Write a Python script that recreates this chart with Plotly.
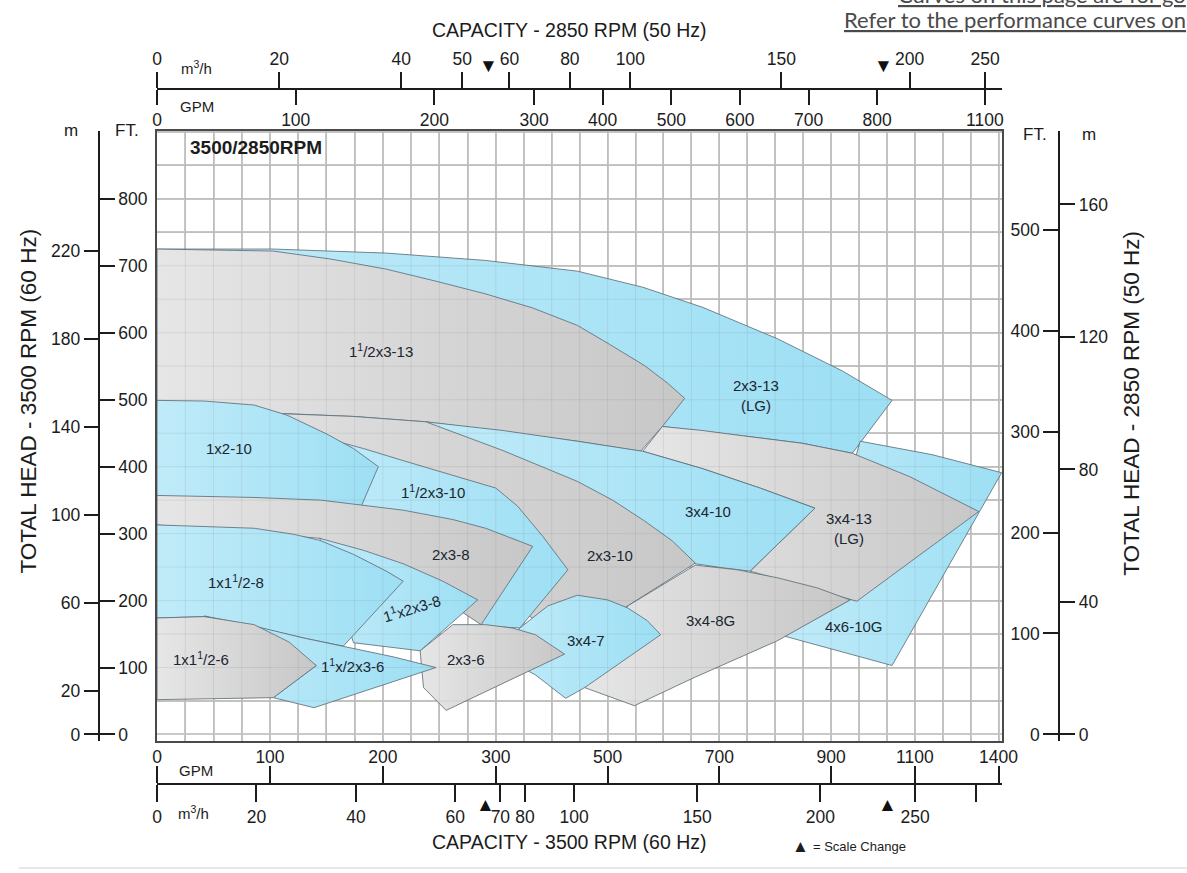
import numpy as np
import plotly.graph_objects as go

# ---------------------------------------------------------------------------
# Hydraulic coverage of each pump size, 3500 RPM basis
# flow in US GPM, total head in feet (outline of each shaded area)
# ---------------------------------------------------------------------------
GPM_2X3_13 = [0, 103, 203, 291, 446, 563, 670, 804, 920, 1018, 938, 848, 743, 598, 446, 218, 0]
FT_2X3_13 = [725, 725, 719, 708, 692, 668, 638, 591, 543, 499, 420, 435, 446, 460, 472, 502, 502]

GPM_15X3_13 = [0, 103, 154, 203, 247, 291, 366, 446, 505, 566, 607, 638, 598, 559, 446, 313, 238, 174, 112, 0]
FT_15X3_13 = [725, 722, 710, 695, 677, 658, 637, 611, 582, 551, 525, 502, 460, 423, 438, 452, 467, 475, 479, 487]

GPM_4X6_10G = [952, 1161, 1411, 1018, 816, 934, 1054, 938]
FT_4X6_10G = [438, 418, 391, 103, 147, 201, 323, 397]

GPM_3X4_13 = [598, 670, 743, 848, 938, 1082, 1329, 946, 848, 755, 871, 773, 670, 563]
FT_3X4_13 = [460, 454, 446, 435, 420, 385, 333, 199, 222, 244, 338, 368, 397, 423]

GPM_3X4_10 = [238, 313, 446, 563, 670, 773, 871, 755, 705, 657, 491, 313, 238]
FT_3X4_10 = [467, 454, 438, 423, 397, 368, 338, 244, 249, 255, 293, 384, 457]

GPM_2X3_10 = [112, 174, 238, 313, 446, 509, 566, 616, 657, 536, 429, 313, 218, 130, 0]
FT_2X3_10 = [479, 475, 467, 424, 378, 350, 319, 289, 256, 192, 137, 204, 323, 397, 412]

GPM_15X3_10 = [150, 183, 218, 262, 300, 339, 384, 429, 343, 289, 183, 165]
FT_15X3_10 = [442, 427, 409, 387, 368, 341, 296, 246, 159, 162, 323, 397]

GPM_1X2_10 = [0, 42, 86, 115, 150, 174, 196, 183, 178, 0]
FT_1X2_10 = [499, 498, 492, 477, 449, 427, 400, 348, 330, 338]

GPM_3X4_8G = [536, 657, 732, 804, 875, 934, 804, 655, 548, 459, 491]
FT_3X4_8G = [192, 253, 246, 234, 219, 201, 140, 85, 43, 70, 130]

GPM_3X4_7 = [343, 393, 446, 500, 536, 571, 595, 459, 425, 371, 313]
FT_3X4_7 = [159, 192, 208, 201, 189, 170, 149, 70, 54, 89, 115]

GPM_2X3_8 = [0, 86, 145, 218, 262, 291, 366, 287, 218, 144, 0]
FT_2X3_8 = [357, 354, 350, 335, 321, 308, 281, 164, 241, 293, 313]

GPM_15X3_8 = [144, 183, 218, 253, 284, 233, 174, 156]
FT_15X3_8 = [293, 275, 255, 229, 201, 125, 137, 234]

GPM_1X15_8 = [0, 86, 121, 144, 174, 203, 218, 165, 130, 86, 42, 0]
FT_1X15_8 = [313, 308, 299, 290, 269, 244, 229, 132, 144, 161, 176, 174]

GPM_2X3_6 = [233, 262, 291, 330, 371, 423, 256, 236]
FT_2X3_6 = [125, 164, 164, 159, 149, 120, 36, 70]

GPM_15X3_6 = [42, 86, 130, 165, 209, 247, 139, 103, 141]
FT_15X3_6 = [177, 162, 144, 132, 116, 100, 40, 55, 103]

GPM_1X15_6 = [0, 42, 86, 117, 141, 103, 0]
FT_1X15_6 = [174, 176, 164, 138, 103, 55, 52]

# Pump size captions and where they sit (GPM, ft)
LABEL_TEXT = ["1<sup>1</sup>/2x3-13", "2x3-13<br>(LG)", "1x2-10", "1<sup>1</sup>/2x3-10",
              "3x4-10", "3x4-13<br>(LG)", "2x3-8", "2x3-10", "1x1<sup>1</sup>/2-8",
              "1<sup>1</sup>x2x3-8", "3x4-8G", "3x4-7", "4x6-10G", "1x1<sup>1</sup>/2-6",
              "1<sup>1</sup>x/2x3-6", "2x3-6"]
LABEL_GPM = [198, 766, 64, 244, 679, 932, 260, 505, 70, 225, 684, 461, 941, 39, 173, 274]
LABEL_FT = [573, 507, 427, 363, 333, 307, 269, 268, 229, 189, 170, 140, 161, 113, 103, 112]
LABEL_ANGLE = [0, 0, 0, 0, 0, 0, 0, 0, 0, -17, 0, 0, 0, 0, 0, 0]

# Axis ticks
BOTTOM_GPM_TICKS = [0, 100, 200, 300, 500, 700, 900, 1100, 1400]
BOTTOM_M3H_TICKS = [0, 20, 40, 60, 70, 80, 100, 150, 200, 250, 300]
BOTTOM_M3H_TEXT = ["0", "20", "40", "60", "70", "80", "100", "150", "200", "250", ""]
TOP_M3H_TICKS = [0, 20, 40, 50, 60, 80, 100, 150, 200, 250]
TOP_GPM_TICKS = [0, 100, 200, 300, 400, 500, 600, 700, 800, 1100]
LEFT_FT_TICKS = [0, 100, 200, 300, 400, 500, 600, 700, 800]
LEFT_M_TICKS = [0, 20, 60, 100, 140, 180, 220]
RIGHT_FT_TICKS = [0, 100, 200, 300, 400, 500]
RIGHT_M_TICKS = [0, 40, 80, 120, 160]

# Unit and speed relations
RPM_60, RPM_50 = 3500, 2850
GPM_PER_M3H = 4.4029
FT_PER_M = 3.2808

# Broken flow scale: break points (GPM @ 3500 RPM) and relative density per segment
SCALE_BREAKS = [0, 300, 1000]
SCALE_DENSITY = [1.0, 0.495, 0.247]
SCALE_CHANGES = [300, 1000]


def flow_pos(gpm):
    g = np.asarray(gpm, dtype=float)
    pos = np.zeros_like(g)
    edges = SCALE_BREAKS + [np.inf]
    for lo, hi, d in zip(edges[:-1], edges[1:], SCALE_DENSITY):
        pos = pos + d * np.clip(g - lo, 0, hi - lo)
    return pos


speed = RPM_60 / RPM_50

# ---------------------------------------------------------------------------
# page geometry: horizontal positions are laid out on a 1187-px grid
# ---------------------------------------------------------------------------
FIG_W, FIG_H = 1204, 873
GRID_W = 1187
FRAME_L, FRAME_T, FRAME_R, FRAME_B = 153, 131, 1001, 744
TOP_AXIS_Y, BOT_AXIS_Y = 89, 787
LEFT_AXIS_X, RIGHT_AXIS_X = 95, 1058
X_RANGE = [float(flow_pos(0)) - 0.4, float(flow_pos(1414))]
Y_RANGE = [-10.4, 902]

FONT = "Liberation Sans, Arial, sans-serif"
INK = "#1c1c1c"


def fx(x):
    return x / GRID_W


def fy(y):
    return 1 - y / FIG_H


BLUE = [[0, "#c0ebf9"], [1, "#9ddff4"]]
GRAY = [[0, "#e6e6e6"], [1, "#c7c7c7"]]

regions = [
    (GPM_2X3_13, FT_2X3_13, BLUE),
    (GPM_15X3_13, FT_15X3_13, GRAY),
    (GPM_4X6_10G, FT_4X6_10G, BLUE),
    (GPM_3X4_13, FT_3X4_13, GRAY),
    (GPM_3X4_10, FT_3X4_10, BLUE),
    (GPM_2X3_10, FT_2X3_10, GRAY),
    (GPM_15X3_10, FT_15X3_10, BLUE),
    (GPM_1X2_10, FT_1X2_10, BLUE),
    (GPM_3X4_8G, FT_3X4_8G, GRAY),
    (GPM_3X4_7, FT_3X4_7, BLUE),
    (GPM_2X3_8, FT_2X3_8, GRAY),
    (GPM_15X3_8, FT_15X3_8, BLUE),
    (GPM_1X15_8, FT_1X15_8, BLUE),
    (GPM_2X3_6, FT_2X3_6, GRAY),
    (GPM_15X3_6, FT_15X3_6, BLUE),
    (GPM_1X15_6, FT_1X15_6, GRAY),
]

fig = go.Figure()
for gpm, ft, scale in regions:
    fig.add_trace(go.Scatter(
        x=flow_pos(gpm + gpm[:1]), y=ft + ft[:1], mode="lines", fill="toself",
        fillgradient=dict(type="horizontal", colorscale=scale),
        line=dict(color="rgba(95,112,122,0.85)", width=1),
        hoverinfo="skip", showlegend=False,
    ))

# grid positions: 25 / 50 / 100 GPM in the three scale segments, 50 ft vertically
grid_gpm = np.concatenate([np.arange(0, 300, 25), np.arange(300, 1000, 50), np.arange(1000, 1401, 100)])
grid_x = flow_pos(grid_gpm)
grid_ft = np.arange(0, 901, 50)

shapes = []
for gx in grid_x[1:]:
    shapes.append(dict(type="line", xref="x", yref="y", x0=gx, x1=gx, y0=Y_RANGE[0], y1=Y_RANGE[1],
                       layer="above", line=dict(color="rgba(110,110,110,0.13)", width=1)))
for gy in grid_ft[1:]:
    shapes.append(dict(type="line", xref="x", yref="y", x0=X_RANGE[0], x1=X_RANGE[1], y0=gy, y1=gy,
                       layer="above", line=dict(color="rgba(110,110,110,0.13)", width=1)))
# faint rule along the foot of the page
shapes.append(dict(type="line", xref="paper", yref="paper", x0=fx(15), x1=1, y0=fy(871), y1=fy(871),
                   line=dict(color="#d0d0d0", width=1)))

annotations = []
for txt, g, f, ang in zip(LABEL_TEXT, LABEL_GPM, LABEL_FT, LABEL_ANGLE):
    annotations.append(dict(x=float(flow_pos(g)), y=f, xref="x", yref="y", text=txt, showarrow=False,
                            textangle=ang, font=dict(family=FONT, size=15, color="#1b2630")))


def note(text, x, y, size=17, bold=False, angle=0, xanchor="center", color=INK, family=FONT):
    annotations.append(dict(x=x, y=y, xref="paper", yref="paper", text=f"<b>{text}</b>" if bold else text,
                            showarrow=False, xanchor=xanchor, yanchor="middle", textangle=angle,
                            font=dict(family=family, size=size, color=color)))


note("CAPACITY - 2850 RPM (50 Hz)", fx(567), fy(30), size=19.5)
note("CAPACITY - 3500 RPM (60 Hz)", fx(567), fy(845), size=19.5)
note("TOTAL HEAD - 3500 RPM (60 Hz)", fx(25), fy(402), size=22.5, angle=-90)
note("TOTAL HEAD - 2850 RPM (50 Hz)", fx(1130), fy(405), size=22.5, angle=-90)
note("3500/2850RPM", fx(184), fy(148), size=19, bold=True, xanchor="left")
note("m", fx(67), fy(131))
note("FT.", fx(123), fy(131))
note("FT.", fx(1034), fy(135))
note("m", fx(1088), fy(135))
note("m<sup>3</sup>/h", fx(193), fy(68), size=15)
note("GPM", fx(193), fy(107), size=15)
note("GPM", fx(192), fy(773), size=15)
note("m<sup>3</sup>/h", fx(190), fy(815), size=15)
note("\u25b2", fx(799), fy(849), size=17)
note("= Scale Change", fx(809), fy(849), size=13, xanchor="left")
note("<u>Curves on this page are for go</u>", 1.0, fy(-6), size=22, xanchor="right",
     color="#4a4a4a", family="Lato, sans-serif")
note("<u>Refer to the performance curves on</u>", 1.0, fy(20), size=22, xanchor="right",
     color="#4a4a4a", family="Lato, sans-serif")

# scale-change markers on both capacity scales
TOP_MARK_SHIFT = [-7, -4]
BOT_MARK_SHIFT = [-10, 0]
for g, st, sb in zip(SCALE_CHANGES, TOP_MARK_SHIFT, BOT_MARK_SHIFT):
    xs = float(flow_pos(g))
    annotations.append(dict(x=xs, y=fy(53), xref="x", yref="paper", text="\u25bc", showarrow=False,
                            xshift=st, font=dict(family=FONT, size=19, color="#111")))
    annotations.append(dict(x=xs, y=fy(820), xref="x", yref="paper", text="\u25b2", showarrow=False,
                            xshift=sb, font=dict(family=FONT, size=19, color="#111")))


def tick_axis(overlay, side, pos, vals, text, ticklen, standoff=0):
    return dict(overlaying=overlay, anchor="free", position=pos, side=side,
                range=X_RANGE if overlay == "x" else Y_RANGE,
                tickmode="array", tickvals=list(vals), ticktext=[str(t) for t in text],
                ticks="outside", ticklen=ticklen, tickwidth=2, tickcolor=INK,
                ticklabelstandoff=standoff,
                showline=True, linecolor=INK, linewidth=2, showgrid=False, zeroline=False,
                tickfont=dict(family=FONT, size=17.5, color=INK), fixedrange=True)


layout = dict(
    width=FIG_W, height=FIG_H, margin=dict(l=0, r=0, t=0, b=0, pad=0),
    paper_bgcolor="white", plot_bgcolor="white", showlegend=False,
    xaxis=dict(domain=[fx(FRAME_L), fx(FRAME_R)], range=X_RANGE, tickmode="array",
               tickvals=list(grid_x), showticklabels=False, ticks="", showgrid=True,
               gridcolor="#c9c9c9", gridwidth=2, zeroline=False, showline=True, mirror=True,
               linecolor="#4a4a4a", linewidth=2, fixedrange=True),
    yaxis=dict(domain=[fy(FRAME_B), fy(FRAME_T)], range=Y_RANGE, tickmode="array",
               tickvals=list(grid_ft), showticklabels=False, ticks="", showgrid=True,
               gridcolor="#c9c9c9", gridwidth=2, zeroline=False, showline=True, mirror=True,
               linecolor="#4a4a4a", linewidth=2, fixedrange=True),
    # 2850 RPM capacity scale (top): m3/h above the rule, GPM below
    xaxis2=tick_axis("x", "top", fy(TOP_AXIS_Y),
                     flow_pos(np.array(TOP_M3H_TICKS) * GPM_PER_M3H * speed), TOP_M3H_TICKS, 16),
    xaxis3=tick_axis("x", "bottom", fy(TOP_AXIS_Y),
                     flow_pos(np.array(TOP_GPM_TICKS) * speed), TOP_GPM_TICKS, 15),
    # 3500 RPM capacity scale (bottom): GPM above the rule, m3/h below
    xaxis4=tick_axis("x", "top", fy(BOT_AXIS_Y), flow_pos(BOTTOM_GPM_TICKS), BOTTOM_GPM_TICKS, 17, -4),
    xaxis5=tick_axis("x", "bottom", fy(BOT_AXIS_Y),
                     flow_pos(np.array(BOTTOM_M3H_TICKS) * GPM_PER_M3H), BOTTOM_M3H_TEXT, 17),
    # 3500 RPM head (left): metres outside, feet inside
    yaxis2=tick_axis("y", "left", fx(LEFT_AXIS_X), np.array(LEFT_M_TICKS) * FT_PER_M, LEFT_M_TICKS, 14),
    yaxis3=tick_axis("y", "right", fx(LEFT_AXIS_X), LEFT_FT_TICKS, LEFT_FT_TICKS, 15),
    # 2850 RPM head (right): feet inside, metres outside
    yaxis4=tick_axis("y", "left", fx(RIGHT_AXIS_X), np.array(RIGHT_FT_TICKS) * speed ** 2, RIGHT_FT_TICKS, 15),
    yaxis5=tick_axis("y", "right", fx(RIGHT_AXIS_X),
                     np.array(RIGHT_M_TICKS) * FT_PER_M * speed ** 2, RIGHT_M_TICKS, 15),
    shapes=shapes,
    annotations=annotations,
)
fig.update_layout(**layout)

# invisible traces so every tick scale is drawn
for xa, ya in [("x2", "y"), ("x3", "y"), ("x4", "y"), ("x5", "y"), ("x", "y2"), ("x", "y3"), ("x", "y4"), ("x", "y5")]:
    fig.add_trace(go.Scatter(x=[None], y=[None], xaxis=xa, yaxis=ya, showlegend=False, hoverinfo="skip"))

fig.write_html("out.html")
